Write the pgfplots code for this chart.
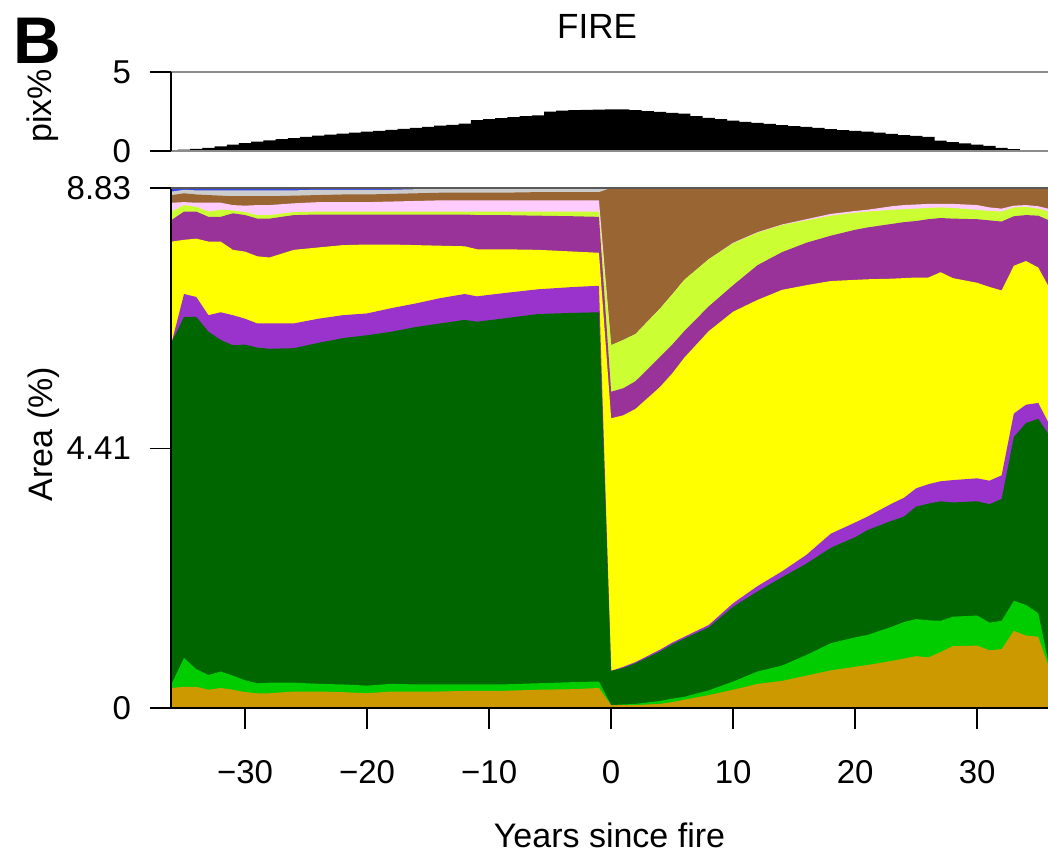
\documentclass[border=0pt]{standalone}
\usepackage{fontspec}
\setmainfont{Liberation Sans}
\usepackage{pgfplots}
\pgfplotsset{compat=1.18}
\usepackage{pgfplotstable}

\definecolor{cOchre}{HTML}{CC9900}
\definecolor{cLgreen}{HTML}{00CC00}
\definecolor{cDgreen}{HTML}{006600}
\definecolor{cPurple}{HTML}{9933CC}
\definecolor{cYellow}{HTML}{FFFF00}
\definecolor{cMagenta}{HTML}{993399}
\definecolor{cYgreen}{HTML}{CCFF33}
\definecolor{cPink}{HTML}{FFCCFF}
\definecolor{cBrown}{HTML}{996633}
\definecolor{cGray}{HTML}{CCCCCC}
\definecolor{cBlue}{HTML}{3344EE}

% cumulative upper boundaries of the stacked layers (bottom to top)
\pgfplotstableread{
x b1 b2 b3 b4 b5 b6 b7 b8 b9 b10 b11
-36 0.34 0.42 6.22 6.22 7.92 8.29 8.43 8.58 8.71 8.77 8.83
-35 0.36 0.85 6.64 7.03 7.95 8.43 8.54 8.59 8.74 8.80 8.83
-34 0.36 0.66 6.64 6.98 7.97 8.43 8.51 8.58 8.72 8.79 8.83
-33 0.31 0.56 6.39 6.67 7.92 8.34 8.43 8.58 8.71 8.79 8.83
-32 0.34 0.62 6.25 6.72 7.92 8.34 8.46 8.58 8.70 8.79 8.83
-31 0.31 0.55 6.16 6.67 7.78 8.40 8.45 8.54 8.69 8.79 8.83
-30 0.27 0.47 6.17 6.61 7.75 8.37 8.42 8.53 8.69 8.79 8.83
-29 0.25 0.42 6.12 6.53 7.67 8.31 8.37 8.54 8.69 8.79 8.83
-28 0.25 0.43 6.10 6.53 7.65 8.31 8.37 8.54 8.69 8.79 8.83
-26 0.28 0.43 6.11 6.53 7.78 8.37 8.42 8.57 8.70 8.79 8.83
-24 0.28 0.41 6.20 6.61 7.82 8.38 8.43 8.59 8.71 8.80 8.83
-22 0.27 0.40 6.28 6.67 7.86 8.38 8.43 8.59 8.72 8.80 8.83
-20 0.25 0.38 6.33 6.70 7.87 8.38 8.43 8.59 8.72 8.80 8.83
-18 0.28 0.41 6.39 6.79 7.87 8.38 8.43 8.60 8.73 8.80 8.83
-16 0.28 0.40 6.47 6.87 7.86 8.38 8.43 8.61 8.74 8.81 8.83
-14 0.28 0.40 6.53 6.96 7.85 8.38 8.43 8.62 8.75 8.81 8.83
-12 0.29 0.40 6.59 7.03 7.84 8.38 8.43 8.62 8.75 8.81 8.83
-11 0.29 0.40 6.56 6.99 7.79 8.37 8.43 8.62 8.75 8.81 8.83
-9  0.29 0.40 6.61 7.04 7.79 8.37 8.43 8.62 8.75 8.81 8.83
-6  0.31 0.42 6.69 7.11 7.78 8.36 8.43 8.62 8.76 8.81 8.83
-3  0.32 0.44 6.71 7.15 7.75 8.35 8.43 8.62 8.76 8.81 8.83
-1  0.34 0.45 6.72 7.17 7.73 8.34 8.43 8.62 8.76 8.81 8.83
0   0.05 0.05 0.63 0.63 4.92 5.37 6.16 6.16 8.83 8.83 8.83
1   0.05 0.06 0.68 0.70 4.97 5.43 6.25 6.25 8.83 8.83 8.83
2   0.05 0.07 0.76 0.78 5.08 5.55 6.35 6.35 8.83 8.83 8.83
4   0.07 0.12 0.96 0.99 5.45 5.96 6.78 6.78 8.83 8.83 8.83
5   0.10 0.16 1.08 1.11 5.68 6.17 7.02 7.02 8.83 8.83 8.83
6   0.14 0.19 1.18 1.21 5.95 6.40 7.27 7.27 8.83 8.83 8.83
8   0.22 0.30 1.37 1.41 6.40 6.82 7.62 7.62 8.83 8.83 8.83
10  0.31 0.45 1.72 1.78 6.73 7.18 7.89 7.90 8.83 8.83 8.83
12  0.41 0.62 1.98 2.07 6.93 7.52 8.07 8.08 8.83 8.83 8.83
14  0.46 0.72 2.22 2.32 7.10 7.74 8.20 8.21 8.83 8.83 8.83
16  0.55 0.90 2.45 2.60 7.18 7.90 8.28 8.30 8.83 8.83 8.83
18  0.64 1.10 2.72 2.96 7.25 8.02 8.36 8.39 8.83 8.83 8.83
20  0.70 1.20 2.90 3.15 7.27 8.12 8.41 8.44 8.83 8.83 8.83
21  0.73 1.24 3.02 3.25 7.28 8.16 8.43 8.46 8.83 8.83 8.83
23  0.80 1.38 3.18 3.47 7.29 8.22 8.46 8.52 8.83 8.83 8.83
24  0.84 1.46 3.25 3.57 7.30 8.25 8.47 8.54 8.83 8.83 8.83
25  0.88 1.51 3.42 3.73 7.31 8.27 8.48 8.55 8.83 8.83 8.83
26  0.86 1.49 3.47 3.80 7.31 8.30 8.49 8.56 8.83 8.83 8.83
27  0.95 1.48 3.51 3.85 7.40 8.32 8.50 8.56 8.83 8.83 8.83
28  1.05 1.55 3.49 3.87 7.30 8.31 8.49 8.56 8.83 8.83 8.83
30  1.06 1.57 3.51 3.90 7.22 8.30 8.46 8.54 8.83 8.83 8.83
31  0.98 1.45 3.46 3.86 7.15 8.28 8.44 8.50 8.83 8.83 8.83
32  1.00 1.48 3.55 3.95 7.09 8.26 8.43 8.48 8.83 8.83 8.83
33  1.31 1.82 4.60 5.00 7.51 8.35 8.50 8.53 8.83 8.83 8.83
34  1.23 1.75 4.84 5.15 7.59 8.37 8.51 8.54 8.83 8.83 8.83
35  1.21 1.61 4.91 5.18 7.48 8.36 8.48 8.52 8.83 8.83 8.83
36  0.62 0.62 4.60 4.78 7.10 8.27 8.42 8.47 8.83 8.83 8.83
}\layers

% share of pixels per year (top panel)
\pgfplotstableread{
x pix
-36 0.00
-35 0.08
-34 0.14
-33 0.20
-32 0.30
-31 0.40
-30 0.50
-29 0.60
-28 0.68
-27 0.75
-26 0.82
-25 0.90
-24 0.97
-23 1.03
-22 1.10
-21 1.16
-20 1.22
-19 1.28
-18 1.34
-17 1.40
-16 1.46
-15 1.53
-14 1.60
-13 1.66
-12 1.73
-11 1.95
-10 2.02
-9 2.08
-8 2.14
-7 2.20
-6 2.26
-5 2.50
-4 2.55
-3 2.58
-2 2.60
-1 2.62
0 2.64
1 2.64
2 2.58
3 2.52
4 2.47
5 2.42
6 2.36
7 2.20
8 2.10
9 2.02
10 1.93
11 1.85
12 1.78
13 1.71
14 1.64
15 1.58
16 1.52
17 1.46
18 1.38
19 1.32
20 1.27
21 1.22
22 1.16
23 1.08
24 1.00
25 0.95
26 0.90
27 0.65
28 0.56
29 0.48
30 0.40
31 0.32
32 0.20
33 0.12
34 0.05
35 0.02
36 0.00
}\pix

\begin{document}
\begin{tikzpicture}[font=\fontsize{17}{20}\selectfont]
\useasboundingbox (-85.5pt,-72.5pt) rectangle (438.5pt,354pt);

\begin{axis}[
  at={(0pt,0pt)}, anchor=south west, scale only axis,
  width=438.5pt, height=260pt,
  xmin=-36.07, xmax=35.8, ymin=0, ymax=8.83,
  axis line style={draw=none},
  clip mode=individual,
  tick align=outside, major tick length=10.5pt,
  tick style={black, line width=0.75pt},
  tick pos=left,
  xtick={-30,-20,-10,0,10,20,30},
  xticklabels={−30,−20,−10,0,10,20,30},
  ytick={0,4.41,8.83}, yticklabels={0,4.41,8.83},
  ticklabel style={font=\fontsize{16.5}{19}\selectfont},
  xticklabel style={yshift=-12pt},
  yticklabel style={xshift=-6pt},
  minor tick num=0,
]
\addplot[fill=cBlue, draw=none] table[x=x,y=b11]{\layers} \closedcycle;
\addplot[fill=cGray, draw=none] table[x=x,y=b10]{\layers} \closedcycle;
\addplot[fill=cBrown, draw=none] table[x=x,y=b9]{\layers} \closedcycle;
\addplot[fill=cPink, draw=none] table[x=x,y=b8]{\layers} \closedcycle;
\addplot[fill=cYgreen, draw=none] table[x=x,y=b7]{\layers} \closedcycle;
\addplot[fill=cMagenta, draw=none] table[x=x,y=b6]{\layers} \closedcycle;
\addplot[fill=cYellow, draw=none] table[x=x,y=b5]{\layers} \closedcycle;
\addplot[fill=cPurple, draw=none] table[x=x,y=b4]{\layers} \closedcycle;
\addplot[fill=cDgreen, draw=none] table[x=x,y=b3]{\layers} \closedcycle;
\addplot[fill=cLgreen, draw=none] table[x=x,y=b2]{\layers} \closedcycle;
\addplot[fill=cOchre, draw=none] table[x=x,y=b1]{\layers} \closedcycle;
\draw[black, line width=0.75pt] (rel axis cs:0,0) -- (rel axis cs:0,1);
\draw[black, line width=0.75pt] (rel axis cs:0,0) -- (rel axis cs:1,0);
\draw[black!65, line width=0.75pt] (rel axis cs:0,1) -- (rel axis cs:1,1);
\end{axis}

\begin{axis}[
  at={(0pt,278.5pt)}, anchor=south west, scale only axis,
  width=438.5pt, height=39.5pt,
  xmin=-36.07, xmax=35.8, ymin=0, ymax=5,
  axis line style={draw=none},
  clip mode=individual,
  tick align=outside, major tick length=10.5pt,
  tick style={black, line width=0.75pt},
  tick pos=left,
  xtick=\empty,
  ytick={0,5},
  ticklabel style={font=\fontsize{16.5}{19}\selectfont},
  yticklabel style={xshift=-6pt},
  /pgf/number format/assume math mode=true,
]
\addplot[const plot mark mid, fill=black, draw=none] table[x=x,y=pix]{\pix} \closedcycle;
\draw[black!45, line width=0.9pt] (rel axis cs:0,0) -- (rel axis cs:1,0);
\draw[black!45, line width=0.9pt] (rel axis cs:0,1) -- (rel axis cs:1,1);
\draw[black, line width=0.75pt] (rel axis cs:0,0) -- (rel axis cs:0,1);
\end{axis}

\node[rotate=90] at (-63.5pt,137pt) {Area (\%)};
\node[rotate=90] at (-64pt,301pt) {pix\%};
\node[font=\fontsize{33}{36}\bfseries\selectfont] at (-67pt,333.5pt) {B};
\node[font=\fontsize{17.5}{20}\selectfont] at (213pt,341pt) {FIRE};
\node at (219.25pt,-63.5pt) {Years since fire};
\end{tikzpicture}
\end{document}
